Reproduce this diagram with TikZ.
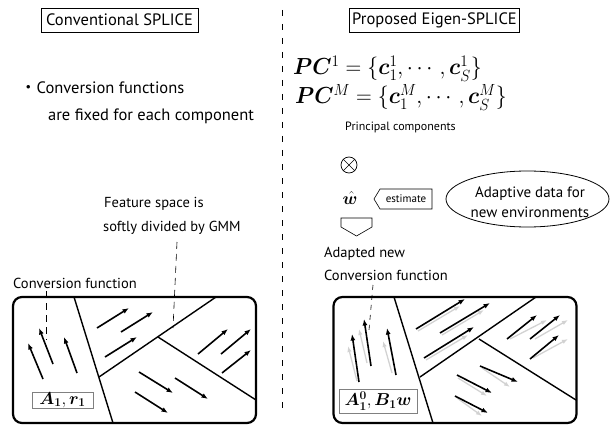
\documentclass[tikz,border=0pt]{standalone}
\usepackage[no-math]{fontspec}
\setmainfont{PT Sans}
\newfontfamily\cjk{Noto Sans CJK JP}
\usepackage{amsmath,bm}
\usetikzlibrary{arrows.meta,shapes.geometric,shapes.symbols}
\tikzset{
  titlebox/.style={draw, line width=0.6pt, inner sep=0pt, minimum height=24pt},
  txt/.style={anchor=base west, inner sep=0pt},
  framebox/.style={draw, line width=2.2pt, rounded corners=9pt, minimum width=243pt, minimum height=126pt, inner sep=0pt},
  part/.style={line width=1.4pt},
  vec/.style={line width=1.6pt, -{Latex[length=6.5pt,width=5pt]}},
  gvec/.style={line width=1.3pt, gray!35, -{Latex[length=6pt,width=4.5pt]}},
  leader/.style={line width=0.6pt, dash pattern=on 7pt off 5pt},
  labbox/.style={draw=gray, line width=0.6pt, fill=white, inner sep=0pt},
}
\begin{document}
\begin{tikzpicture}[x=1pt,y=-1pt]
\useasboundingbox (0,0) rectangle (614,428);

% divider
\coordinate (dvt) at (282,10);
\coordinate (dvb) at (282,410);
\draw[line width=0.6pt, dash pattern=on 6pt off 8pt] (dvt) -- (dvb);

% ---------- left panel ----------
\node[titlebox, minimum width=157pt, font=\fontsize{16.5}{19}\selectfont] (ltitle) at (119.5,20) {Conventional SPLICE};
\node[txt, font=\fontsize{16.5}{19}\selectfont] (conv1) at (20,94) {{\cjk ・}Conversion functions};
\node[txt, font=\fontsize{16.5}{19}\selectfont] (conv2) at (48,121) {are fixed for each component};
\node[txt, font=\fontsize{14.5}{17}\selectfont] (feat1) at (104,207) {Feature space is};
\node[txt, font=\fontsize{14.5}{17}\selectfont] (feat2) at (103,231) {softly divided by GMM};
\node[txt, font=\fontsize{14.5}{17}\selectfont] (lconv) at (13,288) {Conversion function};

\node[framebox] (lbox) at (134.5,360) {};
\draw[part] (74,297) -- (113,423);
\draw[part] (99,377) -- (216,297);
\draw[part] (158,337) -- (256,400);

\draw[vec] (43,379) -- (28,343);
\draw[vec] (53,364) -- (39,328);
\draw[vec] (77,373) -- (64,337);
\draw[vec] (97,328) -- (129,308);
\draw[vec] (121,332) -- (153,312);
\draw[vec] (105,357) -- (137,337);
\draw[vec] (198,354) -- (228,329);
\draw[vec] (221,354) -- (251,329);
\draw[vec] (222,373) -- (251,350);
\draw[vec] (139,372) -- (173,393);
\draw[vec] (175,378) -- (208,399);
\draw[vec] (135,392) -- (168,413);

\node[labbox, minimum width=61pt, minimum height=16pt, font=\fontsize{17}{20}\selectfont] (lab1) at (62.5,400) {$\bm{A_1}, \bm{r_1}$};

\coordinate (fl1) at (177,242);
\coordinate (fl2) at (173,328);
\draw[leader] (fl1) -- (fl2);
\coordinate (cl1) at (46,291);
\coordinate (cl2) at (46,340);
\draw[leader] (cl1) -- (cl2);

% ---------- right panel ----------
\node[titlebox, minimum width=170pt, font=\fontsize{16.5}{19}\selectfont] (rtitle) at (434.5,20) {Proposed Eigen-SPLICE};
\node[txt, font=\fontsize{20.74}{24}\selectfont] (pc1) at (293,75) {\scalebox{1.05}[1.12]{$\bm{PC}^1 = \{\bm{c}_1^1, \cdots, \bm{c}_S^1\}$}};
\node[txt, font=\fontsize{20.74}{24}\selectfont] (pcm) at (295,104) {\scalebox{1.05}[1.12]{$\bm{PC}^M = \{\bm{c}_1^M, \cdots, \bm{c}_S^M\}$}};
\node[txt, font=\fontsize{12}{14}\selectfont] (princ) at (345,131) {Principal components};

\node[circle, draw, line width=0.7pt, minimum size=16pt, inner sep=0pt] (otimes) at (349,165) {};
\draw[line width=0.7pt] (otimes.north west) -- (otimes.south east);
\draw[line width=0.7pt] (otimes.north east) -- (otimes.south west);

\node[font=\fontsize{17}{19}\selectfont, inner sep=0pt] (what) at (350,198) {$\hat{\bm{w}}$};

\node[signal, signal to=west, signal pointer angle=118, draw, line width=0.6pt, minimum width=58pt, minimum height=20pt, inner sep=2pt, font=\fontsize{11}{13}\selectfont] (est) at (406,199) {estimate};

\node[ellipse, draw, line width=0.8pt, minimum width=163pt, minimum height=56pt, inner sep=0pt] (adapt) at (527.5,199) {};
\node[font=\fontsize{15}{17}\selectfont, inner sep=0pt, anchor=base] (ad1) at (530,197) {Adaptive data for};
\node[font=\fontsize{15}{17}\selectfont, inner sep=0pt, anchor=base] (ad2) at (530,217) {new environments};

\draw[line width=0.6pt] (341,218) -- (372,218) -- (372,227) -- (356.5,236) -- (341,227) -- cycle;

\node[txt, font=\fontsize{14.5}{17}\selectfont] (adn1) at (324,257) {Adapted new};
\node[txt, font=\fontsize{14.5}{17}\selectfont] (adn2) at (324,280) {Conversion function};

\node[framebox] (rbox) at (455,360) {};
\draw[part] (394,297) -- (433,423);
\draw[part] (420,377) -- (536,297);
\draw[part] (479,339) -- (576,400);

% gray (original) vectors
\draw[gvec] (357,381) -- (348,346);
\draw[gvec] (367,363) -- (359,329);
\draw[gvec] (392,373) -- (383,341);
\draw[gvec] (418,331) -- (460,306);
\draw[gvec] (442,335) -- (484,310);
\draw[gvec] (426,360) -- (468,335);
\draw[gvec] (510,339) -- (547,320);
\draw[gvec] (535,339) -- (568,320);
\draw[gvec] (533,358) -- (568,339);
\draw[gvec] (482,368) -- (510,387);
\draw[gvec] (458,378) -- (487,396);
\draw[gvec] (457,398) -- (482,416);

% black (adapted) vectors
\draw[vec] (359,382) -- (352,334);
\draw[vec] (371,366) -- (364,319);
\draw[vec] (396,375) -- (387,328);
\draw[vec] (416,329) -- (465,299);
\draw[vec] (440,333) -- (490,303);
\draw[vec] (424,358) -- (474,327);
\draw[vec] (507,339) -- (537,315);
\draw[vec] (530,339) -- (560,315);
\draw[vec] (530,359) -- (559,335);
\draw[vec] (480,366) -- (518,382);
\draw[vec] (457,375) -- (492,393);
\draw[vec] (455,396) -- (488,413);

\node[labbox, minimum width=78pt, minimum height=24pt, font=\fontsize{17}{20}\selectfont] (lab2) at (378,401) {$\bm{A_1^0}, \bm{B_1 w}$};

\coordinate (rl1) at (373,285);
\coordinate (rl2) at (369,330);
\draw[leader, dash pattern=on 5pt off 5pt] (rl1) -- (rl2);

\end{tikzpicture}
\end{document}
